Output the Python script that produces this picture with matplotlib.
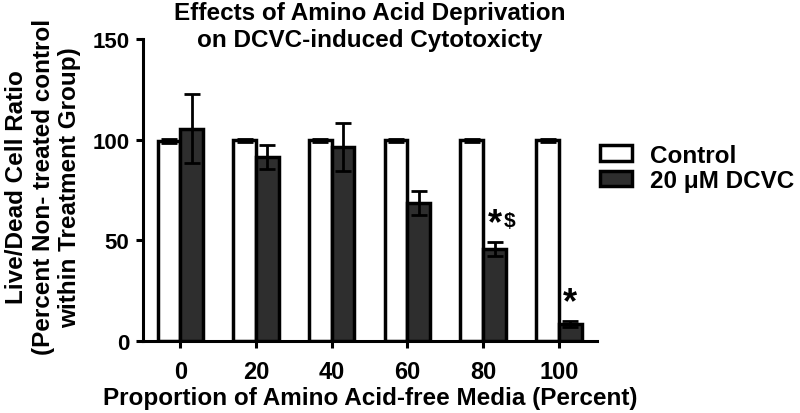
import matplotlib.pyplot as plt
import numpy as np

plt.rcParams['font.family'] = ['Liberation Sans', 'DejaVu Sans']
plt.rcParams['font.weight'] = 'bold'

# data
groups = ["0", "20", "40", "60", "80", "100"]
control = [99.5, 99.7, 99.8, 99.8, 99.8, 99.8]
control_err = [1.0, 0.8, 0.8, 0.8, 0.8, 0.8]
dcvc = [105.5, 91.5, 96.5, 68.5, 45.8, 8.5]
dcvc_err = [17.0, 6.0, 12.0, 6.0, 3.5, 1.5]
marks = ["", "", "", "", "*$", "*"]

fig = plt.figure(figsize=(8, 4.14), dpi=100)
ax = fig.add_axes([0.179, 0.174, 0.567, 0.729])

x = np.arange(len(groups))
w = 0.30
ekw = dict(elinewidth=2, capthick=2, ecolor='black')
ax.bar(x - w / 2, control, w, yerr=control_err, capsize=6, color='white',
       edgecolor='black', linewidth=2.5, error_kw=ekw, label='Control', zorder=2)
ax.bar(x + w / 2, dcvc, w, yerr=dcvc_err, capsize=6, color='#2e2e2e',
       edgecolor='black', linewidth=2.5, error_kw=ekw, label='20 \u03bcM DCVC', zorder=2)

for i, m in enumerate(marks):
    if not m:
        continue
    y = dcvc[i] + dcvc_err[i] + 0.3
    ax.text(x[i] + w / 2, y, "*", ha='center', va='bottom', fontsize=26, fontweight='bold')
    if "$" in m:
        ax.text(x[i] + w / 2 + 0.2, y + 5.5, "$", ha='center', va='bottom', fontsize=15, fontweight='bold')

ax.set_xlim(-0.49, 5.5)
ax.set_ylim(0, 150)
ax.set_yticks([0, 50, 100, 150])
ax.set_xticks(x)
ax.set_xticklabels(groups)
for s in ['top', 'right']:
    ax.spines[s].set_visible(False)
for s in ['left', 'bottom']:
    ax.spines[s].set_linewidth(2.2)
ax.tick_params(width=2.2, length=5)
ax.tick_params(axis='x', labelsize=17, pad=9)
ax.tick_params(axis='y', labelsize=16, pad=5)
for lab in ax.get_xticklabels() + ax.get_yticklabels():
    lab.set_fontweight('bold')

fig.text(0.4625, 0.022, "Proportion of Amino Acid-free Media (Percent)", fontsize=17.5,
         fontweight='bold', ha='center', va='baseline')
fig.text(0.054, 0.548, "Live/Dead Cell Ratio\n(Percent Non- treated control\nwithin Treatment Group)",
         fontsize=17.5, fontweight='bold', rotation=90, ha='center', va='center',
         multialignment='center', linespacing=1.2)
fig.text(0.4625, 0.995, "Effects of Amino Acid Deprivation\non DCVC-induced Cytotoxicty", fontsize=17.5,
         fontweight='bold', ha='center', va='top', linespacing=1.2)

leg = fig.legend(loc='center left', bbox_to_anchor=(0.75, 0.592), frameon=False,
                 fontsize=17.5, handlelength=1.3, handleheight=0.6, handletextpad=0.75,
                 labelspacing=0.1, borderpad=0, borderaxespad=0)
for t in leg.get_texts():
    t.set_fontweight('bold')

fig.savefig("out.png", dpi=100)
